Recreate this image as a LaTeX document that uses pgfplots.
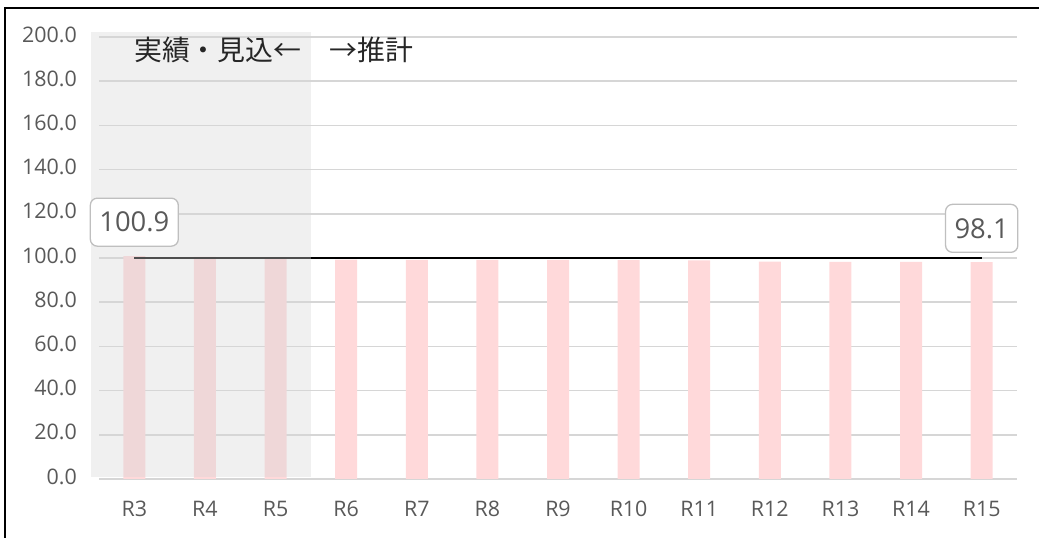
\documentclass[border=0pt]{standalone}
\usepackage{fontspec}
\setmainfont{Open Sans}
\newfontfamily\cjk{Noto Sans CJK JP}
\usepackage{pgfplots}
\usepackage{pgfplotstable}
\pgfplotsset{compat=1.18}

\definecolor{barpink}{RGB}{255,217,218}
\definecolor{gridgray}{RGB}{214,214,214}
\definecolor{txtgray}{RGB}{89,89,89}
\definecolor{shadegray}{RGB}{214,214,214}
\definecolor{boxgray}{RGB}{191,191,191}

% index values R3..R15
\pgfplotstableread{
x val
0 100.9
1 100.5
2 100.2
3 99.3
4 99.2
5 99.1
6 99.1
7 99.0
8 98.9
9 98.4
10 98.3
11 98.2
12 98.1
}\ratio

\begin{document}
\begin{tikzpicture}
\useasboundingbox (0,0) rectangle (1039bp,538bp);
\begin{axis}[
    at={(99bp,59bp)}, anchor=south west,
    scale only axis,
    width=918bp, height=442bp,
    xmin=-0.5, xmax=12.5,
    ymin=0, ymax=200,
    clip=false,
    axis line style={draw=none},
    major tick length=0pt,
    xtick={0,...,12},
    xticklabels={R3,R4,R5,R6,R7,R8,R9,R10,R11,R12,R13,R14,R15},
    ytick={0,20,...,200},
    ymajorgrids,
    grid style={gridgray, line width=1.6bp},
    yticklabel style={/pgf/number format/fixed, /pgf/number format/fixed zerofill,
        /pgf/number format/precision=1, /pgf/number format/assume math mode=true},
    yticklabel style={anchor=base east, inner sep=0pt, xshift=-22bp, yshift=-5.2bp,
        font=\fontsize{21.5}{23}\selectfont, text=txtgray},
    xticklabel style={anchor=base, inner sep=0pt, yshift=-37.7bp,
        font=\fontsize{21.5}{23}\selectfont, text=txtgray},
]
\addplot[ybar, bar width=22bp, fill=barpink, draw=none] table[x=x, y=val] {\ratio};

\addplot[black, line width=1.5bp, mark=none] coordinates {
    (0,100) (1,100) (2,100) (3,100) (4,100) (5,100) (6,100)
    (7,100) (8,100) (9,100) (10,100) (11,100) (12,100)
};

\addplot[draw=none, mark=none, nodes near coords, point meta=explicit symbolic,
    nodes near coords style={anchor=south, yshift=9.2bp, draw=boxgray, line width=1.3bp,
        rounded corners=7bp, fill=white, inner xsep=9bp, minimum height=48bp,
        font=\fontsize{27.5}{30}\selectfont, text=txtgray}]
    coordinates {(0,100.9) [100.9] (12,98.1) [98.1]};

% shaded "actual / estimate" region
\addplot[draw=none, fill=shadegray, fill opacity=0.37, mark=none]
    coordinates {(-0.62,0.9) (2.5,0.9) (2.5,202.3) (-0.62,202.3)} -- cycle;
\end{axis}

\node[anchor=west, inner sep=0pt, text=black!85, font=\cjk\fontsize{28}{30}\selectfont]
    at (134bp,488bp) {実績・見込←　→推計};

\draw[line width=2bp] (4.5bp,0) -- (4.5bp,529.7bp) -- (1039bp,529.7bp);
\end{tikzpicture}
\end{document}
